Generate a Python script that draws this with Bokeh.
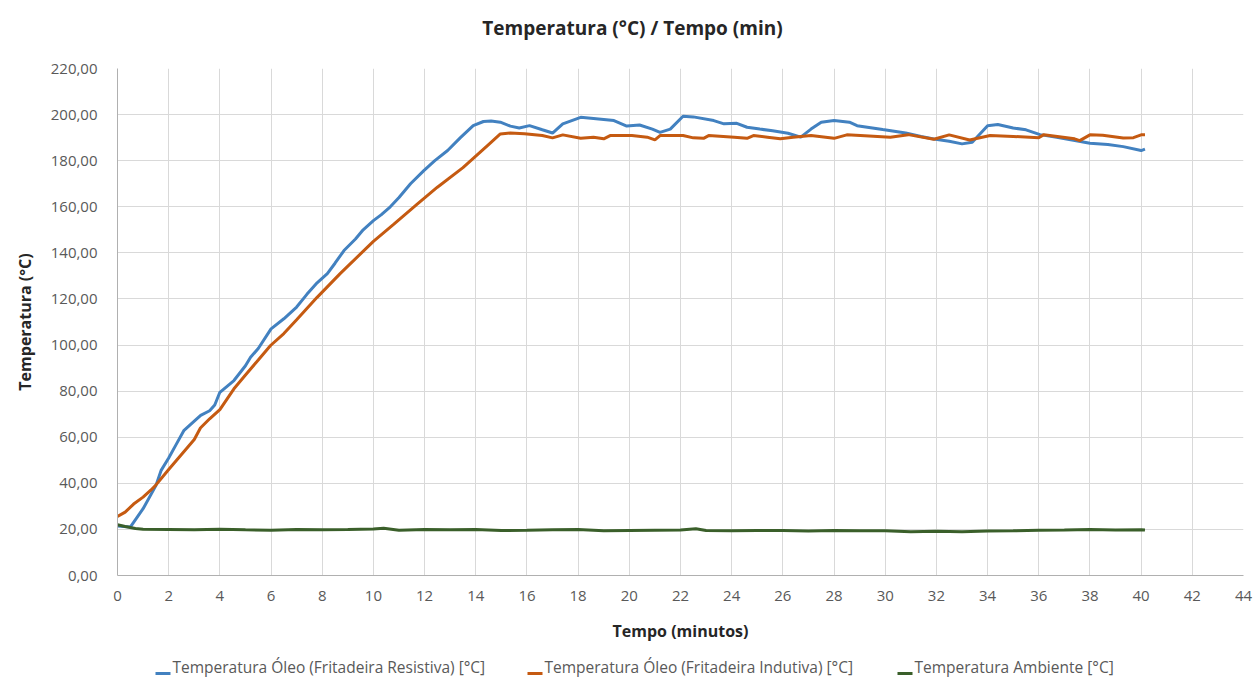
from bokeh.plotting import figure
from bokeh.models import Range1d, FixedTicker, CustomJSTickFormatter
from bokeh.layouts import column
from bokeh.core.properties import value
from bokeh.embed import file_html
from bokeh.resources import INLINE

# ---- data ----
res_x = [0, 0.5, 1.0, 1.5, 1.7, 2.0, 2.3, 2.6, 3.0, 3.25, 3.6, 3.8, 4.0, 4.55, 5.0, 5.2, 5.5, 6.0, 6.5, 7.0,
         7.4, 7.8, 8.2, 8.5, 8.85, 9.3, 9.6, 10.0, 10.3, 10.66, 11.0, 11.45, 11.97, 12.4, 12.9, 13.4, 13.9,
         14.3, 14.6, 14.96, 15.35, 15.7, 16.1, 16.6, 17.0, 17.4, 18.1, 18.9, 19.4, 19.9, 20.4, 20.9, 21.2,
         21.6, 22.1, 22.5, 23.3, 23.7, 24.2, 24.6, 25.1, 25.6, 26.2, 26.7, 27.1, 27.5, 28.0, 28.6, 28.9,
         29.9, 30.8, 31.4, 31.9, 32.5, 33.0, 33.4, 34.0, 34.4, 35.0, 35.5, 36.05, 36.7, 37.3, 38.0, 38.7,
         39.3, 40.0, 40.15]
res_y = [21.5, 21.0, 29.0, 39.0, 45.5, 51.0, 57.0, 63.0, 67.0, 69.5, 71.5, 74.0, 79.5, 84.6, 91.0, 94.7, 98.5,
         107.0, 111.4, 116.5, 122.0, 127.0, 131.0, 135.5, 141.0, 146.0, 150.0, 154.0, 156.5, 160.0, 164.0,
         170.0, 175.7, 180.0, 184.4, 190.0, 195.2, 197.0, 197.2, 196.7, 195.0, 194.2, 195.2, 193.4, 192.0,
         196.0, 198.8, 198.0, 197.4, 195.0, 195.5, 193.7, 192.3, 193.7, 199.3, 199.0, 197.4, 196.0, 196.2,
         194.5, 193.7, 193.0, 191.9, 190.2, 193.7, 196.7, 197.4, 196.7, 195.2, 193.5, 192.0, 190.5, 189.4,
         188.4, 187.3, 188.0, 195.2, 195.7, 194.2, 193.4, 191.3, 190.2, 189.0, 187.6, 187.0, 186.1, 184.4,
         185.0]

ind_x = [0, 0.3, 0.63, 1.0, 1.3, 1.48, 2.0, 2.5, 3.0, 3.24, 3.6, 4.0, 4.55, 5.0, 5.5, 5.98, 6.5, 7.0, 7.8,
         8.7, 10.0, 10.8, 11.7, 12.5, 13.5, 14.0, 14.5, 14.96, 15.35, 15.9, 16.6, 17.0, 17.4, 18.1,
         18.6, 19.0, 19.25, 20.1, 20.7, 21.0, 21.2, 22.1, 22.5, 22.9, 23.1, 24.1, 24.6, 24.85, 25.4, 25.9,
         26.4, 27.1, 28.0, 28.5, 29.2, 30.2, 30.9, 31.9, 32.5, 33.3, 34.1, 35.0, 36.0, 36.2, 37.4, 37.6,
         38.0, 38.5, 39.3, 39.7, 40.0, 40.15]
ind_y = [25.6, 27.5, 31.0, 34.0, 37.0, 39.0, 46.0, 52.5, 59.0, 64.0, 68.0, 72.0, 81.0, 87.0, 93.5, 99.8,
         105.0, 111.0, 120.7, 131.0, 145.0, 152.5, 161.0, 168.5, 177.0, 182.0, 187.0, 191.6, 192.0,
         191.7, 190.9, 189.9, 191.2, 189.7, 190.2, 189.5, 190.9, 190.9, 190.2, 189.0, 190.9, 190.9, 189.9,
         189.7, 190.9, 190.2, 189.7, 190.9, 190.2, 189.5, 190.2, 190.9, 189.7, 191.2, 190.8, 190.2, 191.3,
         189.3, 191.2, 189.0, 190.9, 190.5, 190.0, 191.3, 189.5, 188.7, 191.2, 191.0, 189.8, 190.0, 191.2,
         191.2]

amb_x = [0, 0.3, 0.7, 1, 2, 3, 4, 5, 6, 7, 8, 9, 10, 10.4, 11, 12, 13, 14, 15, 16, 17, 18, 19, 20, 21,
         22, 22.6, 23, 24, 25, 26, 27, 28, 29, 30, 31, 32, 33, 34, 35, 36, 37, 38, 39, 40, 40.15]
amb_y = [22.0, 21.3, 20.4, 20.1, 20.0, 19.8, 20.1, 19.8, 19.6, 20.0, 19.9, 20.0, 20.2, 20.5, 19.6, 20.0,
         19.9, 20.0, 19.5, 19.6, 19.8, 20.0, 19.4, 19.5, 19.6, 19.7, 20.3, 19.5, 19.4, 19.5, 19.5, 19.3,
         19.5, 19.4, 19.4, 19.0, 19.2, 19.0, 19.3, 19.4, 19.6, 19.7, 20.0, 19.7, 19.8, 19.7]

x_ticks = list(range(0, 45, 2))
y_ticks = list(range(0, 221, 20))

series_labels = ["Temperatura Óleo (Fritadeira Resistiva) [°C]",
                 "Temperatura Óleo (Fritadeira Indutiva) [°C]",
                 "Temperatura Ambiente [°C]"]
series_colors = ["#4281c0", "#c55a11", "#3a5f2a"]
title_text = "Temperatura (°C) / Tempo (min)"

FONT = "Open Sans"

# strips share the main chart's frame alignment (frame spans page x 117..1243)
STRIP_X = Range1d(117, 1243)

# ---- title strip ----
tfig = figure(width=1258, height=48, output_backend="svg", toolbar_location=None,
              x_range=STRIP_X, y_range=Range1d(0, 48),
              x_axis_location=None, y_axis_location=None, min_border=0)
tfig.outline_line_color = None
tfig.grid.visible = False
tfig.text(x=[632], y=[21], text=[title_text], text_align="center", text_baseline="middle",
          text_font=value(FONT), text_font_size="19px", text_font_style="bold", text_color="#262626")

# ---- main chart ----
p = figure(width=1258, height=603, output_backend="svg", toolbar_location=None,
           x_range=Range1d(0, 44), y_range=Range1d(0, 220),
           min_border_left=117, min_border_right=15, min_border_top=20, min_border_bottom=76)
p.outline_line_color = None
p.background_fill_color = "white"
p.border_fill_color = "white"

p.xgrid.ticker = FixedTicker(ticks=x_ticks)
p.ygrid.ticker = FixedTicker(ticks=y_ticks)
for g in (p.xgrid, p.ygrid):
    g.grid_line_color = "#d9d9d9"
    g.grid_line_width = 1

p.xaxis.ticker = FixedTicker(ticks=x_ticks)
p.yaxis.ticker = FixedTicker(ticks=y_ticks)
p.yaxis.formatter = CustomJSTickFormatter(code="return tick.toFixed(2).replace('.', ',');")
for ax in (p.xaxis, p.yaxis):
    ax.major_tick_out = 0
    ax.major_tick_in = 0
    ax.minor_tick_out = 0
    ax.minor_tick_in = 0
    ax.axis_line_color = "#b0b0b0"
    ax.major_label_text_font = FONT
    ax.major_label_text_font_size = "15px"
    ax.major_label_text_color = "#595959"
    ax.axis_label_text_font = FONT
    ax.axis_label_text_font_size = "16px"
    ax.axis_label_text_font_style = "bold"
    ax.axis_label_text_color = "#262626"
p.xaxis.axis_label = "Tempo (minutos)"
p.yaxis.axis_label = "Temperatura (°C)"
p.xaxis.major_label_standoff = 15
p.xaxis.axis_label_standoff = 16
p.yaxis.major_label_standoff = 20
p.yaxis.axis_label_standoff = 12

p.line(res_x, res_y, line_color=series_colors[0], line_width=3)
p.line(ind_x, ind_y, line_color=series_colors[1], line_width=3)
p.line(amb_x, amb_y, line_color=series_colors[2], line_width=3)

# ---- legend strip ----
leg_marker_x = [155, 527, 897]   # layout positions of legend entries (page pixels)
leg = figure(width=1258, height=40, output_backend="svg", toolbar_location=None,
             x_range=STRIP_X, y_range=Range1d(0, 40),
             x_axis_location=None, y_axis_location=None, min_border=0)
leg.outline_line_color = None
leg.grid.visible = False
leg.segment(x0=leg_marker_x, y0=[18] * 3, x1=[x + 15 for x in leg_marker_x], y1=[18] * 3,
            line_color=series_colors, line_width=3)
leg.text(x=[x + 17 for x in leg_marker_x], y=[24.5] * 3, text=series_labels,
         text_baseline="middle", text_align="left", text_font=value(FONT),
         text_font_size="15.5px", text_color="#595959")

layout = column(tfig, p, leg, spacing=0)
open("out.html", "w").write(file_html(layout, INLINE))
